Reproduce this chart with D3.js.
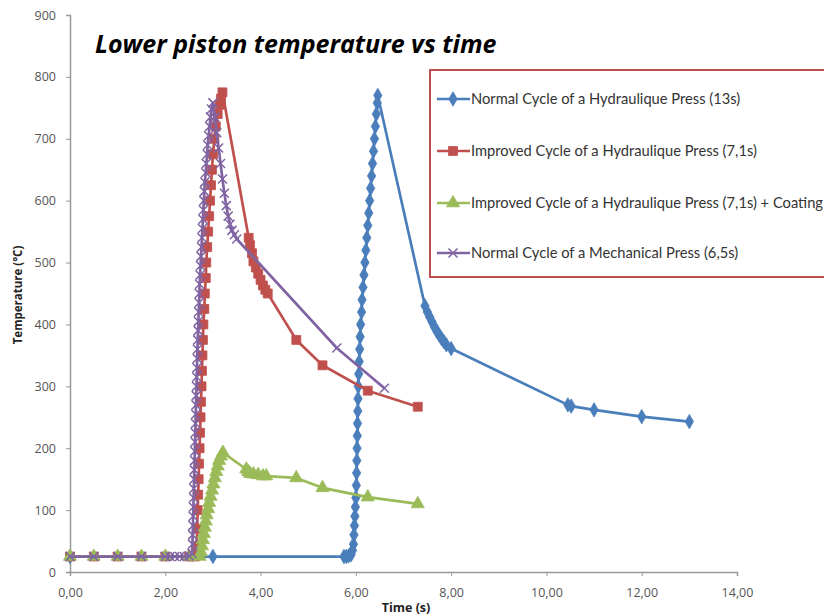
<!DOCTYPE html>
<html>
<head>
<meta charset="utf-8">
<script src="https://cdn.jsdelivr.net/npm/d3@7"></script>
<style>
  body { margin: 0; background: #fff; }
  svg text { font-family: "Open Sans", "Liberation Sans", sans-serif; }
</style>
</head>
<body>
<div id="chart"></div>
<script>
var normalHydraulic = [
  [0, 25], [3.0, 25], [5.75, 25], [5.8, 25], [5.85, 26], [5.9, 28], [5.93, 35],
  [5.95, 45], [5.96, 60], [5.97, 75], [5.98, 90], [5.99, 105], [6.0, 120], [6.01, 140],
  [6.015, 160], [6.02, 180], [6.025, 200], [6.03, 220], [6.035, 240], [6.04, 260],
  [6.045, 280], [6.05, 300], [6.06, 320], [6.07, 340], [6.08, 360], [6.09, 380],
  [6.1, 400], [6.12, 420], [6.13, 440], [6.15, 460], [6.17, 480], [6.19, 500],
  [6.21, 520], [6.23, 540], [6.25, 560], [6.27, 580], [6.29, 600], [6.31, 620],
  [6.33, 640], [6.35, 660], [6.37, 680], [6.39, 700], [6.41, 720], [6.43, 740],
  [6.45, 758], [6.46, 770],
  [7.45, 430], [7.5, 420], [7.55, 412], [7.6, 404], [7.65, 396], [7.7, 389],
  [7.75, 383], [7.8, 377], [7.85, 372], [7.9, 367], [8.0, 361],
  [10.45, 270], [10.52, 268], [11.0, 262], [12.0, 251], [13.0, 243]
];

var improvedHydraulic = [
  [0, 25], [0.5, 25], [1.0, 25], [1.5, 25], [2.0, 25], [2.5, 25], [2.62, 25],
  [2.66, 40], [2.67, 70], [2.68, 100], [2.69, 125], [2.7, 150], [2.71, 175], [2.72, 200],
  [2.73, 225], [2.74, 250], [2.75, 275], [2.76, 300], [2.77, 325], [2.78, 350],
  [2.79, 375], [2.8, 400], [2.82, 425], [2.83, 450], [2.85, 475], [2.86, 500],
  [2.88, 525], [2.9, 550], [2.92, 575], [2.94, 600], [2.96, 625], [2.98, 650],
  [3.0, 675], [3.03, 700], [3.06, 720], [3.1, 740], [3.14, 755], [3.17, 765],
  [3.2, 775],
  [3.75, 540], [3.78, 528], [3.82, 515], [3.85, 502], [3.9, 492], [3.95, 482],
  [4.0, 472], [4.05, 463], [4.1, 456], [4.15, 450],
  [4.75, 375], [5.3, 334], [6.25, 293], [7.3, 267]
];

var improvedCoating = [
  [0, 25], [0.5, 25], [1.0, 25], [1.5, 25], [2.0, 25], [2.5, 25], [2.72, 25],
  [2.75, 32], [2.77, 42], [2.79, 52], [2.81, 62], [2.83, 72], [2.85, 82], [2.87, 92],
  [2.9, 102], [2.92, 112], [2.95, 122], [2.98, 132], [3.01, 142], [3.04, 152],
  [3.07, 162], [3.1, 171], [3.13, 180], [3.17, 187], [3.21, 193],
  [3.7, 166], [3.74, 162], [3.78, 159], [3.85, 158], [3.95, 157], [4.05, 155],
  [4.12, 155], [4.75, 152], [5.3, 136], [6.25, 121], [7.3, 110]
];

var mechanical = [
  [0, 25], [0.5, 25], [1.0, 25], [1.5, 25], [2.0, 25], [2.1, 25], [2.2, 25],
  [2.3, 25], [2.4, 25], [2.5, 26], [2.56, 30],
  [2.57, 45], [2.575, 60], [2.58, 75], [2.585, 90], [2.59, 105], [2.595, 120],
  [2.6, 135], [2.605, 150], [2.61, 165], [2.615, 180], [2.62, 195], [2.625, 210],
  [2.63, 225], [2.635, 240], [2.64, 255], [2.645, 270], [2.65, 285], [2.655, 300],
  [2.66, 315], [2.665, 330], [2.67, 345], [2.675, 360], [2.68, 375], [2.69, 390],
  [2.695, 405], [2.7, 420], [2.71, 435], [2.715, 450], [2.72, 465], [2.73, 480],
  [2.74, 495], [2.75, 510], [2.76, 525], [2.77, 540], [2.78, 555], [2.79, 570],
  [2.8, 585], [2.81, 600], [2.82, 615], [2.83, 630], [2.85, 645], [2.86, 660],
  [2.88, 675], [2.89, 690], [2.91, 705], [2.93, 720], [2.95, 735], [2.97, 748],
  [3.0, 758],
  [3.04, 735], [3.08, 710], [3.12, 685], [3.16, 660], [3.2, 635], [3.24, 612],
  [3.28, 592], [3.32, 575], [3.36, 562], [3.4, 552], [3.45, 545], [3.5, 538],
  [5.6, 362], [6.6, 297]
];

var legendLabels = [
  "Normal Cycle of a Hydraulique Press (13s)",
  "Improved Cycle of a Hydraulique Press (7,1s)",
  "Improved Cycle of a Hydraulique Press (7,1s) + Coating",
  "Normal Cycle of a Mechanical Press (6,5s)"
];

var xTicks = [0, 2, 4, 6, 8, 10, 12, 14];
var yTicks = [0, 100, 200, 300, 400, 500, 600, 700, 800, 900];

var W = 824, H = 616;

var svg = d3.select("#chart")
  .append("svg")
  .attr("width", W)
  .attr("height", H);

var x = d3.scaleLinear().domain([0, 14]).range([70, 737]);
var y = d3.scaleLinear().domain([0, 900]).range([572, 15]);

// axes
var xAxis = svg.append("g")
  .attr("transform", "translate(0," + y(0) + ")")
  .call(d3.axisBottom(x).tickValues(xTicks).tickSize(4).tickPadding(12)
    .tickFormat(function(d) { return d3.format(".2f")(d).replace(".", ","); }));

var yAxis = svg.append("g")
  .attr("transform", "translate(" + x(0) + ",0)")
  .call(d3.axisLeft(y).tickValues(yTicks).tickSize(4).tickPadding(10));

[xAxis, yAxis].forEach(function(a) {
  a.select(".domain").attr("stroke", "#999").attr("stroke-width", 1.5);
  a.selectAll(".tick line").attr("stroke", "#999");
  a.selectAll(".tick text")
    .attr("fill", "#555")
    .style("font-size", "12.5px")
    .style("font-family", "'Open Sans', sans-serif");
});

// axis titles
svg.append("text")
  .attr("x", 406)
  .attr("y", 612)
  .attr("text-anchor", "middle")
  .style("font-size", "12.5px")
  .style("font-weight", "bold")
  .attr("fill", "#222")
  .text("Time (s)");

svg.append("text")
  .attr("transform", "translate(22,295) rotate(-90)")
  .attr("text-anchor", "middle")
  .style("font-size", "11.5px")
  .style("font-weight", "bold")
  .attr("fill", "#222")
  .text("Temperature (°C)");

// title
svg.append("text")
  .attr("x", 95)
  .attr("y", 53)
  .style("font-size", "25px")
  .style("font-weight", "bold")
  .style("font-style", "italic")
  .attr("fill", "#000")
  .text("Lower piston temperature vs time");

var series = [
  { data: normalHydraulic, color: "#4a7ebb", symbol: d3.symbolDiamond, size: 60, stroke: false },
  { data: improvedHydraulic, color: "#c0504d", symbol: d3.symbolSquare, size: 80, stroke: false },
  { data: improvedCoating, color: "#9bbb59", symbol: d3.symbolTriangle, size: 75, stroke: false },
  { data: mechanical, color: "#8064a2", symbol: d3.symbolX, size: 55, stroke: true }
];

var line = d3.line()
  .x(function(d) { return x(d[0]); })
  .y(function(d) { return y(d[1]); });

function drawMarker(sel, s) {
  sel.attr("d", d3.symbol().type(s.symbol).size(s.size))
    .attr("fill", s.stroke ? "none" : s.color)
    .attr("stroke", s.color)
    .attr("stroke-width", s.stroke ? 1.5 : 0.8);
}

series.forEach(function(s) {
  var g = svg.append("g");
  g.append("path")
    .datum(s.data)
    .attr("d", line)
    .attr("fill", "none")
    .attr("stroke", s.color)
    .attr("stroke-width", 2.7)
    .attr("stroke-linejoin", "round");

  g.selectAll("path.mk")
    .data(s.data)
    .enter()
    .append("path")
    .attr("class", "mk")
    .attr("transform", function(d) { return "translate(" + x(d[0]) + "," + y(d[1]) + ")"; })
    .call(drawMarker, s);
});

// legend
var legend = svg.append("g");
legend.append("rect")
  .attr("x", 430)
  .attr("y", 70)
  .attr("width", 440)
  .attr("height", 207)
  .attr("fill", "#fff")
  .attr("stroke", "#c0504d")
  .attr("stroke-width", 2);

var rowY = [99, 151, 203, 253];

series.forEach(function(s, i) {
  legend.append("line")
    .attr("x1", 437).attr("x2", 470)
    .attr("y1", rowY[i]).attr("y2", rowY[i])
    .attr("stroke", s.color)
    .attr("stroke-width", 2.6);
  legend.append("path")
    .attr("transform", "translate(453," + rowY[i] + ")")
    .call(drawMarker, s);
  legend.append("text")
    .attr("x", 471)
    .attr("y", rowY[i])
    .attr("dy", "0.35em")
    .style("font-family", "Lato, 'Open Sans', sans-serif")
    .style("font-size", "14.7px")
    .attr("fill", "#333")
    .text(legendLabels[i]);
});
</script>
</body>
</html>
